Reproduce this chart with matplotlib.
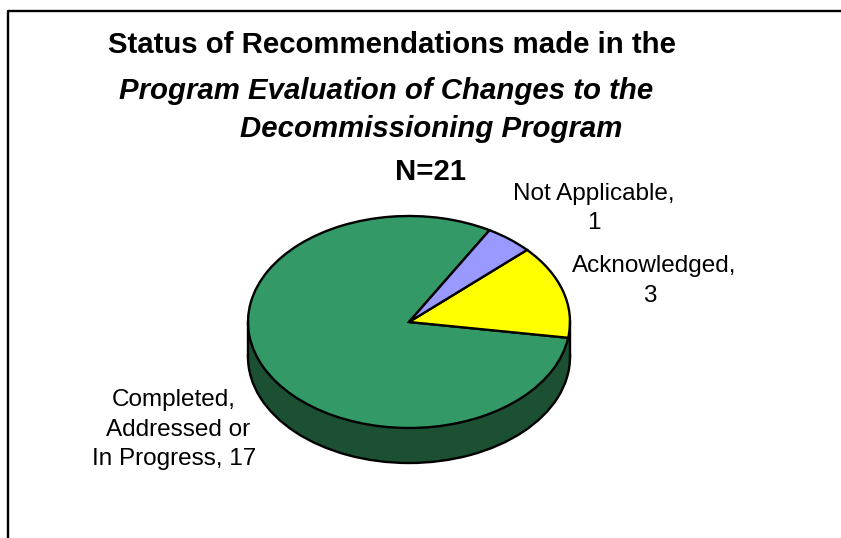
import numpy as np
import matplotlib
matplotlib.use('Agg')
import matplotlib.pyplot as plt
from matplotlib.patches import Rectangle

categories = ['Completed, Addressed or In Progress', 'Acknowledged', 'Not Applicable']
values = [17, 3, 1]
colors = ['#339966', '#FFFF00', '#9999FF']
wall_color = '#1C5033'
title_lines = ['Status of Recommendations made in the',
               'Program Evaluation of Changes to the',
               'Decommissioning Program',
               'N=21']

W, H = 841, 538
plt.rcParams['font.family'] = ['Liberation Sans', 'DejaVu Sans']

fig = plt.figure(figsize=(W / 100, H / 100), dpi=100)
bg = fig.add_axes([0, 0, 1, 1])
bg.set_xlim(0, W)
bg.set_ylim(H, 0)
bg.axis('off')

# chart frame, bottom and right are cut off by the image
bg.plot([8.5, 8.5, 841], [H, 11, 11], color='black', lw=1.7, solid_capstyle='butt')

# pie axes: top ellipse is 322 wide and 212 high, wall is 35 px
depth = 35 / 106
ax = fig.add_axes([248 / W, 1 - 463 / H, 322 / W, 247 / H])
ax.pie([sum(values)], colors=[wall_color], center=(0, -depth), radius=1,
       wedgeprops={'edgecolor': 'black', 'linewidth': 1.7})
ax.add_patch(Rectangle((-1, -depth), 2, depth, facecolor=wall_color, edgecolor='none'))
ax.plot([-1, -1], [0, -depth], color='black', lw=1.7)
ax.plot([1, 1], [0, -depth], color='black', lw=1.7)
ax.pie(values, colors=colors, startangle=60, radius=1,
       wedgeprops={'edgecolor': 'black', 'linewidth': 1.7})
ax.set_aspect('auto')
ax.set_xlim(-1, 1)
ax.set_ylim(-1 - depth, 1)
ax.axis('off')
for a in ax.patches + ax.lines:
    a.set_clip_on(False)

fs = 21.2
bg.text(392, 45, title_lines[0], ha='center', va='center', fontsize=fs, fontweight='bold')
bg.text(386, 91, title_lines[1], ha='center', va='center', fontsize=fs, fontweight='bold', style='italic')
bg.text(431, 129, title_lines[2], ha='center', va='center', fontsize=fs, fontweight='bold', style='italic')
bg.text(431, 172, title_lines[3], ha='center', va='center', fontsize=fs, fontweight='bold')

ls = 17.5
bg.text(594, 194, 'Not Applicable,', ha='center', va='center', fontsize=ls)
bg.text(594, 223, str(values[2]), ha='center', va='center', fontsize=ls)
bg.text(654, 266, 'Acknowledged,', ha='center', va='center', fontsize=ls)
bg.text(650, 296, str(values[1]), ha='center', va='center', fontsize=ls)
bg.text(174, 400, 'Completed,', ha='center', va='center', fontsize=ls)
bg.text(178, 430, 'Addressed or', ha='center', va='center', fontsize=ls)
bg.text(174, 459, 'In Progress, ' + str(values[0]), ha='center', va='center', fontsize=ls)

fig.savefig('out.png', dpi=100)
